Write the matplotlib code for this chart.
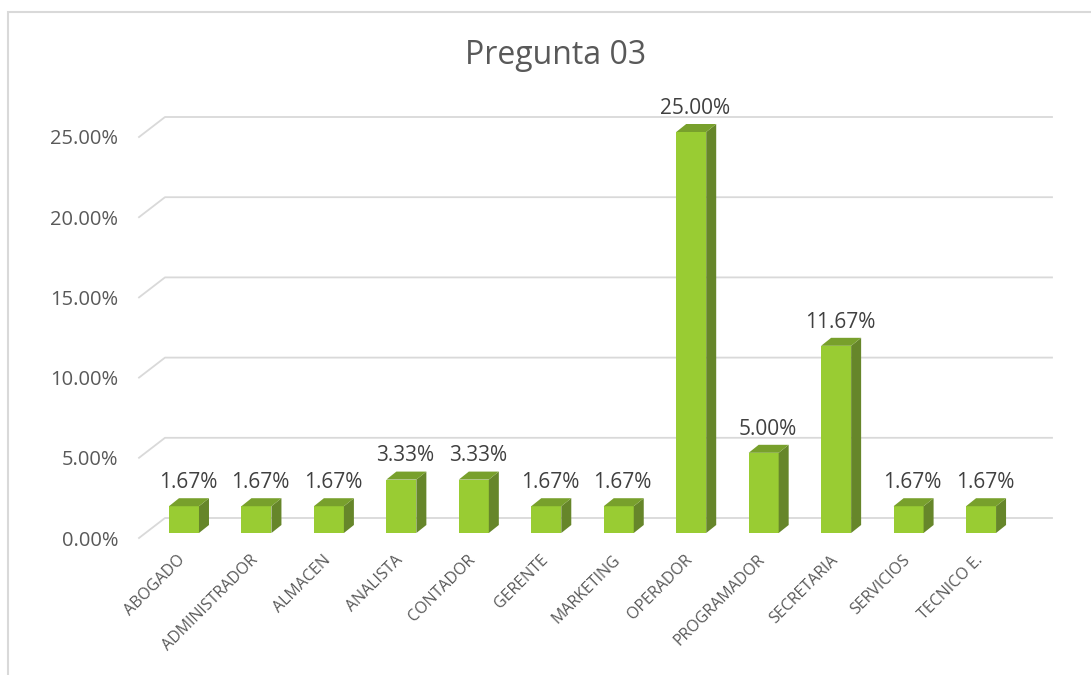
import matplotlib.pyplot as plt
from matplotlib.patches import Polygon, Rectangle

plt.rcParams['font.family'] = ['Open Sans', 'DejaVu Sans']

categorias = ['ABOGADO', 'ADMINISTRADOR', 'ALMACEN', 'ANALISTA', 'CONTADOR',
              'GERENTE', 'MARKETING', 'OPERADOR', 'PROGRAMADOR', 'SECRETARIA',
              'SERVICIOS', 'TECNICO E.']
porcentajes = [1.67, 1.67, 1.67, 3.33, 3.33, 1.67, 1.67, 25.00, 5.00, 11.67, 1.67, 1.67]
ticks_y = [0, 5, 10, 15, 20, 25]

W, H = 1091, 675
fig = plt.figure(figsize=(W / 100, H / 100), dpi=100)

# front plane of the 3d box, in pixels
ax_left, ax_right, ax_bottom = 139, 1026, 538
px_pct = 16.04
ymax = 27
xmin, xmax = -0.531, 11.71
ax_top = ax_bottom - ymax * px_pct
ax = fig.add_axes([ax_left / W, 1 - ax_bottom / H,
                   (ax_right - ax_left) / W, (ax_bottom - ax_top) / H])
ax.set_xlim(xmin, xmax)
ax.set_ylim(0, ymax)
ax.patch.set_alpha(0)
for s in ax.spines.values():
    s.set_visible(False)

ux = (ax_right - ax_left) / (xmax - xmin)   # px per category
uy = px_pct                                   # px per percent

# back wall offset and bar depth
gx, gy = 26 / ux, 20 / uy
bx, by = 6.5 / ux, 5 / uy
dx, dy = 10 / ux, 8 / uy
bw = 30 / ux

grid_c = '#d9d9d9'
for t in ticks_y:
    ax.plot([xmin, xmin + gx, xmax + gx], [t, t + gy, t + gy],
            color=grid_c, lw=1.3, zorder=1, clip_on=False)

front, side, top = '#99CC33', '#66862A', '#78A02C'
x = list(range(len(categorias)))
ax.bar([i + bx for i in x], porcentajes, width=bw, bottom=by,
       color=front, zorder=3)
for i, v in zip(x, porcentajes):
    xr = i + bx + bw / 2
    xl = i + bx - bw / 2
    ax.add_patch(Polygon([(xr, by), (xr + dx, by + dy), (xr + dx, by + v + dy), (xr, by + v)],
                         closed=True, fc=side, ec='none', zorder=3))
    ax.add_patch(Polygon([(xl, by + v), (xr, by + v), (xr + dx, by + v + dy), (xl + dx, by + v + dy)],
                         closed=True, fc=top, ec='none', zorder=3))
    ax.annotate(f'{v:.2f}%', (i + bx + 4 / ux, by + v), xytext=(0, 17),
                textcoords='offset points', ha='center', va='center',
                fontsize=15, color='#404040', zorder=4)

ax.set_yticks(ticks_y, [f'{t:.2f}%' for t in ticks_y])
ax.set_xticks(x, categorias, rotation=45, ha='right', rotation_mode='anchor')
ax.tick_params(axis='y', length=0, pad=15, labelsize=14.5, labelcolor='#595959')
ax.tick_params(axis='x', length=0, pad=10, labelsize=11.5, labelcolor='#595959')

fig.text(556 / W, 1 - 55 / H, 'Pregunta 03', ha='center', va='center',
         fontsize=23, color='#595959')

fig.patches.append(Rectangle((8 / W, -0.02), 1.1, 1 - 12 / H + 0.02,
                             transform=fig.transFigure, fill=False,
                             ec=grid_c, lw=1.5))

fig.savefig('out.png', dpi=100)
